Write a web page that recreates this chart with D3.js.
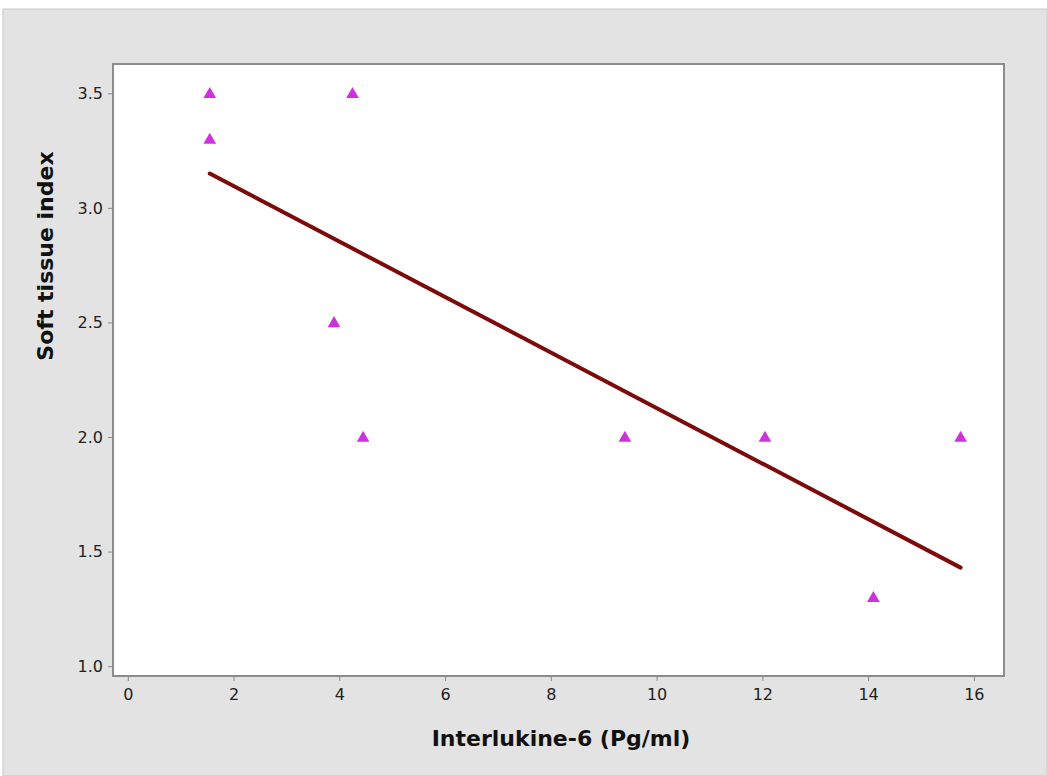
<!DOCTYPE html>
<html>
  <head>
    <meta charset="utf-8">
    <title>Soft tissue index vs Interlukine-6</title>
    <script src="https://cdnjs.cloudflare.com/ajax/libs/d3/7.8.5/d3.min.js"></script>
    <style>
      body { margin: 0; background: #fff; }
      .tick text { font-family: "DejaVu Sans", Verdana, sans-serif; font-size: 16px; fill: #222; }
      .axis-title { font-family: "DejaVu Sans", Verdana, sans-serif; font-weight: bold; font-size: 22px; fill: #111; }
    </style>
  </head>
  <body>

    <svg class="chart" width="1047" height="776"></svg>

    <script>

      // IL-6 (x) and soft tissue index (y) for each subject
      var il6 = [1.55, 1.55, 4.25, 3.9, 4.45, 9.4, 12.05, 14.1, 15.75];
      var softTissue = [3.5, 3.3, 3.5, 2.5, 2.0, 2.0, 2.0, 1.3, 2.0];

      // fitted line ends
      var fitX = [1.55, 15.75];
      var fitY = [3.15, 1.43];

      var xTicks = [0, 2, 4, 6, 8, 10, 12, 14, 16];
      var yTicks = [1.0, 1.5, 2.0, 2.5, 3.0, 3.5];

      var svg = d3.select("svg.chart");

      // grey panel
      svg.append("rect")
        .attr("x", 3).attr("y", 9)
        .attr("width", 1044).attr("height", 767)
        .attr("fill", "#e3e3e3")
        .attr("stroke", "#c8c8c8");

      var plotL = 113, plotT = 64, plotR = 1004, plotB = 676;

      var x = d3.scaleLinear().domain([-0.28, 16.57]).range([plotL, plotR]);
      var y = d3.scaleLinear().domain([0.957, 3.628]).range([plotB, plotT]);

      // plot area
      svg.append("rect")
        .attr("x", plotL).attr("y", plotT)
        .attr("width", plotR - plotL).attr("height", plotB - plotT)
        .attr("fill", "#fff")
        .attr("stroke", "#8c8c8c")
        .attr("stroke-width", 2);

      var xAxis = svg.append("g")
        .attr("transform", "translate(0," + (plotB + 1) + ")")
        .call(d3.axisBottom(x).tickValues(xTicks).tickSize(4).tickPadding(8)
          .tickFormat(d3.format("d")));

      var yAxis = svg.append("g")
        .attr("transform", "translate(" + (plotL - 1) + ",0)")
        .call(d3.axisLeft(y).tickValues(yTicks).tickSize(4).tickPadding(5)
          .tickFormat(d3.format(".1f")));

      [xAxis, yAxis].forEach(function(a) {
        a.select(".domain").remove();
        a.selectAll(".tick line").attr("stroke", "#888");
      });

      // fitted line
      var line = d3.line()
        .x(function(d) { return x(d[0]); })
        .y(function(d) { return y(d[1]); });

      svg.append("path")
        .datum(d3.zip(fitX, fitY))
        .attr("d", line)
        .attr("fill", "none")
        .attr("stroke", "#7d0a0a")
        .attr("stroke-width", 4)
        .attr("stroke-linecap", "round");

      // points
      var tri = d3.symbol().type(d3.symbolTriangle).size(70);

      svg.append("g")
        .selectAll("path")
        .data(d3.zip(il6, softTissue))
        .enter()
          .append("path")
            .attr("d", tri)
            .attr("transform", function(d) { return "translate(" + x(d[0]) + "," + (y(d[1]) + 1) + ")"; })
            .attr("fill", "#cc33dd");

      // axis titles
      svg.append("text")
        .attr("class", "axis-title")
        .attr("x", 561).attr("y", 746)
        .attr("text-anchor", "middle")
        .text("Interlukine-6 (Pg/ml)");

      svg.append("text")
        .attr("class", "axis-title")
        .attr("transform", "translate(53,256) rotate(-90)")
        .attr("text-anchor", "middle")
        .text("Soft tissue index");

    </script>
  </body>
</html>
